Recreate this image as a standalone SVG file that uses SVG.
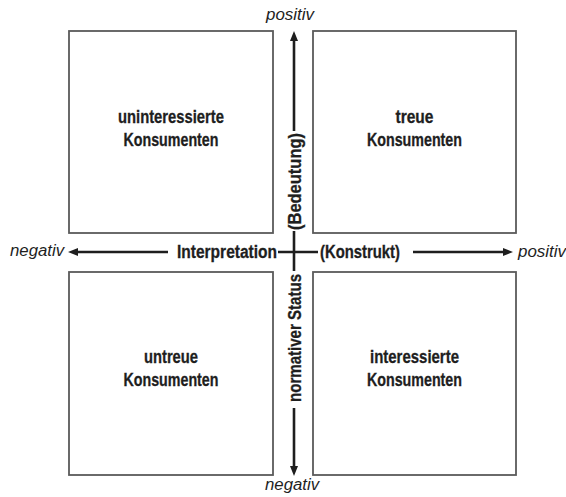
<svg xmlns="http://www.w3.org/2000/svg" width="566" height="497" viewBox="0 0 566 497">
<style>
.box{fill:#fff;stroke:#5a5a5a;stroke-width:1.8}
.lbl{font-family:"Liberation Sans",Arial,sans-serif;font-weight:bold;font-size:18px;fill:#1e1e1e;stroke:#1e1e1e;stroke-width:0.3;text-anchor:middle}
.end{font-family:"Liberation Sans",Arial,sans-serif;font-style:italic;font-size:16px;fill:#1e1e1e}
.ax{stroke:#1e1e1e;stroke-width:2.6;fill:none}
</style>
<defs>
<marker id="ah" viewBox="0 0 10 8" refX="2" refY="4" markerWidth="10" markerHeight="8" orient="auto" markerUnits="userSpaceOnUse">
<path d="M0,0 L10,4 L0,8 z" fill="#1e1e1e"/>
</marker>
</defs>
<rect width="566" height="497" fill="#fff"/>
<g id="q-uninteressierte">
<rect class="box" x="69" y="31" width="204" height="202"/>
<text class="lbl" x="171" y="123" textLength="106" lengthAdjust="spacingAndGlyphs">uninteressierte</text>
<text class="lbl" x="171" y="145.5" textLength="95" lengthAdjust="spacingAndGlyphs">Konsumenten</text>
</g>
<g id="q-treue">
<rect class="box" x="313" y="31" width="203" height="202"/>
<text class="lbl" x="414.5" y="123" textLength="38" lengthAdjust="spacingAndGlyphs">treue</text>
<text class="lbl" x="414.5" y="145.5" textLength="95" lengthAdjust="spacingAndGlyphs">Konsumenten</text>
</g>
<g id="q-untreue">
<rect class="box" x="69" y="272" width="204" height="203"/>
<text class="lbl" x="171" y="363" textLength="54" lengthAdjust="spacingAndGlyphs">untreue</text>
<text class="lbl" x="171" y="386" textLength="95" lengthAdjust="spacingAndGlyphs">Konsumenten</text>
</g>
<g id="q-interessierte">
<rect class="box" x="313" y="272" width="203" height="203"/>
<text class="lbl" x="414.5" y="363" textLength="89" lengthAdjust="spacingAndGlyphs">interessierte</text>
<text class="lbl" x="414.5" y="386" textLength="95" lengthAdjust="spacingAndGlyphs">Konsumenten</text>
</g>
<g id="connectors">
<line class="ax" x1="168" y1="252" x2="76" y2="252" marker-end="url(#ah)"/>
<line class="ax" x1="413" y1="252" x2="505" y2="252" marker-end="url(#ah)"/>
<line class="ax" x1="278" y1="252" x2="318" y2="252"/>
<line class="ax" x1="294" y1="131" x2="294" y2="39" marker-end="url(#ah)"/>
<line class="ax" x1="294" y1="231" x2="294" y2="271"/>
<line class="ax" x1="294" y1="408" x2="294" y2="468" marker-end="url(#ah)"/>
</g>
<g id="axis-labels">
<text class="lbl" x="227" y="258" textLength="100" lengthAdjust="spacingAndGlyphs">Interpretation</text>
<text class="lbl" x="360" y="258" textLength="80" lengthAdjust="spacingAndGlyphs">(Konstrukt)</text>
<text class="lbl" transform="translate(300.5,181.5) rotate(-90)" x="0" y="0" textLength="97" lengthAdjust="spacingAndGlyphs">(Bedeutung)</text>
<text class="lbl" transform="translate(300.5,338) rotate(-90)" x="0" y="0" textLength="128" lengthAdjust="spacingAndGlyphs">normativer Status</text>
<text class="end" x="10" y="256" textLength="54" lengthAdjust="spacingAndGlyphs">negativ</text>
<text class="end" x="518" y="256.5" textLength="48" lengthAdjust="spacingAndGlyphs">positiv</text>
<text class="end" x="266" y="19.5" textLength="48" lengthAdjust="spacingAndGlyphs">positiv</text>
<text class="end" x="265" y="490" textLength="54" lengthAdjust="spacingAndGlyphs">negativ</text>
</g>
</svg>
